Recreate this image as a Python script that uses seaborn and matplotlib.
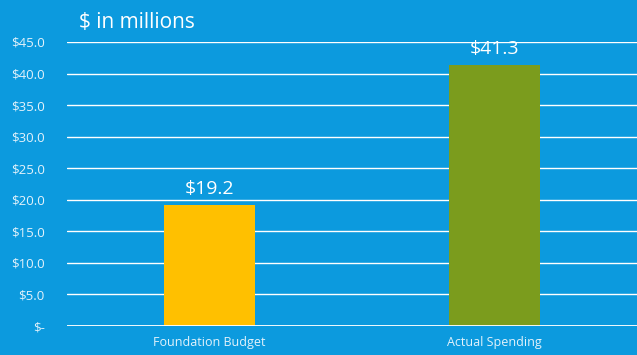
import matplotlib
matplotlib.use("Agg")
import matplotlib.pyplot as plt
import seaborn as sns
import pandas as pd

categories = ["Foundation Budget", "Actual Spending"]
values = [19.2, 41.3]
bar_colors = ["#FFC000", "#7B9C1D"]
y_ticks = [0, 5, 10, 15, 20, 25, 30, 35, 40, 45]
y_tick_labels = ["$-", "$5.0", "$10.0", "$15.0", "$20.0", "$25.0",
                 "$30.0", "$35.0", "$40.0", "$45.0"]
value_labels = [f"${v:.1f}" for v in values]

BG = "#0C9ADE"

sns.set_theme(style="white")
plt.rcParams["font.family"] = ["Open Sans", "DejaVu Sans"]

df = pd.DataFrame({"category": categories, "value": values})

fig = plt.figure(figsize=(6.37, 3.55), dpi=100, facecolor=BG)
ax = fig.add_axes([67 / 637, 29 / 355, 570 / 637, 284 / 355])
ax.set_facecolor(BG)

sns.barplot(data=df, x="category", y="value", hue="category",
            palette=bar_colors, width=0.316, saturation=1.0,
            legend=False, ax=ax, zorder=3, linewidth=0, edgecolor="none")

ax.set_xlim(-0.5, 1.5)
ax.set_ylim(0, 45)
ax.set_yticks(y_ticks)
ax.set_yticklabels(y_tick_labels)
ax.yaxis.grid(True, color="white", linewidth=1.0, zorder=0)
ax.set_axisbelow(True)
for side in ["top", "right", "left", "bottom"]:
    ax.spines[side].set_visible(False)
ax.axhline(0, color="white", linewidth=1.3, zorder=4)

ax.tick_params(axis="y", length=0, pad=16, labelsize=9.5, labelcolor="#E3F2FB")
ax.tick_params(axis="x", length=0, pad=7, labelsize=9, labelcolor="#E3F2FB")
for lbl in ax.get_yticklabels():
    lbl.set_horizontalalignment("right")
ax.set_xlabel("")
ax.set_ylabel("")

for i, (v, txt) in enumerate(zip(values, value_labels)):
    ax.annotate(txt, xy=(i, v), xytext=(0, 5), textcoords="offset points",
                ha="center", va="bottom", fontsize=14, color="white", zorder=5)

fig.text(79 / 637, 1 - 22 / 355, "$ in millions", ha="left", va="center",
         fontsize=15, color="white")

fig.savefig("out.png", dpi=100, facecolor=BG)
